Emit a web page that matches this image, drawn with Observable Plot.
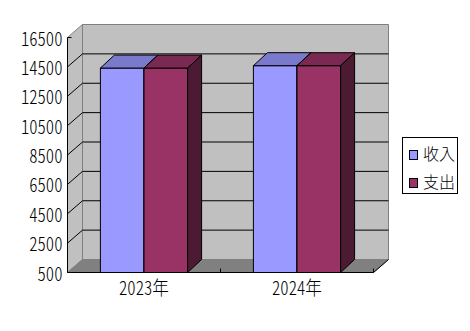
<!DOCTYPE html>
<html><head><meta charset="utf-8">
<script src="https://cdn.jsdelivr.net/npm/d3@7"></script>
<script src="https://cdn.jsdelivr.net/npm/@observablehq/plot@0.6"></script>
<style>
body{margin:0;background:#fff;}
#wrap{position:relative;width:470px;height:331px;overflow:hidden;}
svg text{font-family:"Noto Sans CJK JP","Noto Sans CJK SC",sans-serif;font-feature-settings:"hwid";font-weight:300;fill:#000;}
.legend{position:absolute;left:402px;top:137px;width:54px;height:55px;border:1px solid #000;background:#fff;
  font-family:"Noto Sans CJK JP","Noto Sans CJK SC",sans-serif;font-weight:300;font-size:16px;color:#000;}
.legend .item{position:absolute;left:6px;height:20px;line-height:20px;white-space:nowrap;}
.legend .sw{position:absolute;left:0;top:6px;width:7px;height:8px;border:1px solid #000;}
.legend .lb{position:absolute;left:14px;top:-1px;}
</style></head><body><div id="wrap"></div>
<script>
const years = ["2023年", "2024年"];
const series = ["收入", "支出"];
const income = [14420, 14580];
const expense = [14420, 14580];
const yTicks = [500, 2500, 4500, 6500, 8500, 10500, 12500, 14500, 16500];
const colors = ["#9999ff", "#993366"];

const values = [income, expense];
const color = d3.scaleOrdinal(series, colors);
const DX = 15, DY = -13, BDX = 14, BDY = -13;
const SQUEEZE = 0.876;

function walls(index, scales, vals, dim) {
  const {x, y} = scales;
  const x0 = dim.marginLeft, x1 = dim.width - dim.marginRight;
  const yb = y(yTicks[0]), yt = y(yTicks[yTicks.length - 1]);
  const g = d3.create("svg:g").attr("transform", "translate(0.5,0.5)");
  g.append("path").attr("d", `M${x0+DX},${yt+DY}H${x1+DX}V${yb+DY}H${x0+DX}Z`).attr("fill", "#c0c0c0").attr("stroke", "#808080");
  g.append("path").attr("d", `M${x0},${yt}L${x0+DX},${yt+DY}V${yb+DY}L${x0},${yb}Z`).attr("fill", "#c0c0c0").attr("stroke", "#808080");
  g.append("path").attr("d", `M${x0},${yb}H${x1}L${x1+DX},${yb+DY}H${x0+DX}Z`).attr("fill", "#808080").attr("stroke", "#808080");
  for (const t of yTicks.slice(1, -1)) {
    g.append("path").attr("d", `M${x0},${y(t)}L${x0+DX},${y(t)+DY}H${x1+DX}`).attr("fill", "none").attr("stroke", "#000");
  }
  g.append("path").attr("d", `M${x0},${yt}V${yb}H${x1}L${x1+DX},${yb+DY}`).attr("fill", "none").attr("stroke", "#000");
  g.append("path").attr("d", `M${x0},${yt}H${x0+4}`).attr("stroke", "#000");
  const bw = x.bandwidth ? x.bandwidth() : (x1 - x0) / years.length;
  const bounds = years.map(d => x(d)).concat([x(years[years.length - 1]) + bw]);
  for (const b of bounds) g.append("path").attr("d", `M${b},${yb}V${yb-4}`).attr("stroke", "#000");
  return g.node();
}

function bars(index, scales, vals, dim) {
  const {x, y} = scales;
  const x0 = dim.marginLeft, x1 = dim.width - dim.marginRight;
  const bw = x.bandwidth ? x.bandwidth() : (x1 - x0) / years.length;
  const pair = bw * 0.57, w = pair / 2;
  const yb = y(yTicks[0]);
  const g = d3.create("svg:g").attr("transform", "translate(0.5,0.5)").attr("stroke", "#000").attr("stroke-linejoin", "miter");
  years.forEach((yr, i) => {
    const left = x(yr) + bw / 2 - pair / 2;
    series.forEach((s, j) => {
      const c = d3.color(color(s));
      const xl = left + j * w, xr = xl + w, yt = y(values[j][i]);
      g.append("path").attr("d", `M${xl},${yb}V${yt}H${xr}V${yb}Z`).attr("fill", c.formatHex());
      g.append("path").attr("d", `M${xl},${yt}L${xl+BDX},${yt+BDY}H${xr+BDX}L${xr},${yt}Z`).attr("fill", d3.rgb(c.r*0.8, c.g*0.8, c.b*0.8).formatHex());
      g.append("path").attr("d", `M${xr},${yt}L${xr+BDX},${yt+BDY}V${yb+BDY}L${xr},${yb}Z`).attr("fill", d3.rgb(c.r*0.5, c.g*0.5, c.b*0.5).formatHex());
    });
  });
  return g.node();
}

const plot = Plot.plot({
  width: 470,
  height: 331,
  marginLeft: 67,
  marginRight: 97,
  marginTop: 37,
  marginBottom: 59,
  style: {background: "#fff"},
  x: {type: "band", domain: years, padding: 0},
  y: {domain: [yTicks[0], yTicks[yTicks.length - 1]]},
  marks: [
    walls,
    bars,
    Plot.axisY({ticks: yTicks, tickSize: 0, tickPadding: 5, tickFormat: d => String(d), fontSize: 19, dy: 2, label: null}),
    Plot.axisX({tickSize: 0, tickPadding: 9, fontSize: 19, label: null})
  ]
});
// narrow the tick labels horizontally around their anchor
d3.select(plot).selectAll('g[aria-label$="tick label"] text').each(function () {
  const t = this.getAttribute("transform");
  if (t) {
    this.setAttribute("transform", t + ` scale(${SQUEEZE},1)`);
  } else {
    const x = +this.getAttribute("x") || 0, y = +this.getAttribute("y") || 0;
    this.removeAttribute("x"); this.removeAttribute("y");
    this.setAttribute("transform", `translate(${x},${y}) scale(${SQUEEZE},1)`);
  }
});
const wrap = document.getElementById("wrap");
wrap.appendChild(plot);

const lg = document.createElement("div");
lg.className = "legend";
series.forEach((s, j) => {
  const it = document.createElement("div");
  it.className = "item";
  it.style.top = (6 + j * 28) + "px";
  const sw = document.createElement("span");
  sw.className = "sw";
  sw.style.background = color(s);
  const lb = document.createElement("span");
  lb.className = "lb";
  lb.textContent = s;
  it.appendChild(sw); it.appendChild(lb);
  lg.appendChild(it);
});
wrap.appendChild(lg);
</script></body></html>
